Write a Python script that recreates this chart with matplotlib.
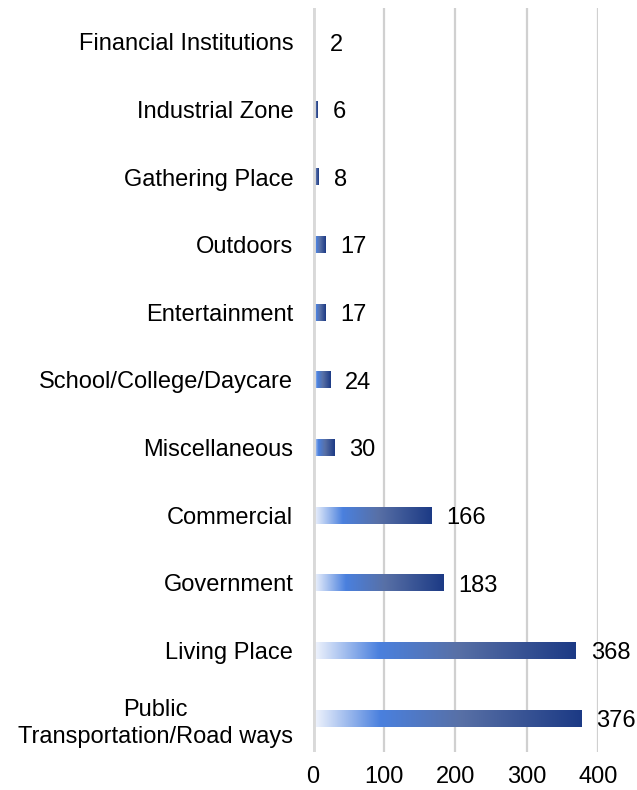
import numpy as np
import matplotlib
matplotlib.use("Agg")
import matplotlib.pyplot as plt
from matplotlib.colors import LinearSegmentedColormap

categories = ["Public\nTransportation/Road ways", "Living Place", "Government", "Commercial",
              "Miscellaneous", "School/College/Daycare", "Entertainment", "Outdoors",
              "Gathering Place", "Industrial Zone", "Financial Institutions"]
values = [376, 368, 183, 166, 30, 24, 17, 17, 8, 6, 2]
xticks = [0, 100, 200, 300, 400]

plt.rcParams["font.family"] = ["Liberation Sans", "DejaVu Sans"]

grad = LinearSegmentedColormap.from_list(
    "bar", [(0.0, "#f3f6fd"), (0.25, "#4a80de"), (0.55, "#5870a6"), (1.0, "#1c3a85")])

fig = plt.figure(figsize=(6.37, 7.9), dpi=100)
ax = fig.add_axes([0.491, 0.048, 0.448, 0.942])

fs = 17
bar_h = 0.25
ramp = np.linspace(0, 1, 256).reshape(1, -1)
for i, v in enumerate(values):
    ax.imshow(ramp, cmap=grad, aspect="auto", interpolation="bilinear",
              extent=[0, v, i - bar_h / 2, i + bar_h / 2], zorder=3)
    ax.annotate(str(v), xy=(v, i), xytext=(11, -2), textcoords="offset points",
                ha="left", va="center", fontsize=fs, color="#000000")

ax.set_xlim(0, 400)
ax.set_ylim(-0.5, len(values) - 0.5)
ax.set_yticks(range(len(values)))
ax.set_yticklabels(categories, fontsize=fs, linespacing=1.3, multialignment="center")
ax.set_xticks(xticks)
ax.set_xticklabels([str(t) for t in xticks], fontsize=fs)
ax.tick_params(axis="both", length=0)
ax.tick_params(axis="y", pad=14)
ax.tick_params(axis="x", pad=10)
for s in ax.spines.values():
    s.set_visible(False)
for t in xticks[1:]:
    ax.axvline(t, color="#d0d0d0", lw=1.6, zorder=1)
ax.axvline(0, color="#d9d9d9", lw=3.5, zorder=4)

fig.savefig("out.png", dpi=100)
